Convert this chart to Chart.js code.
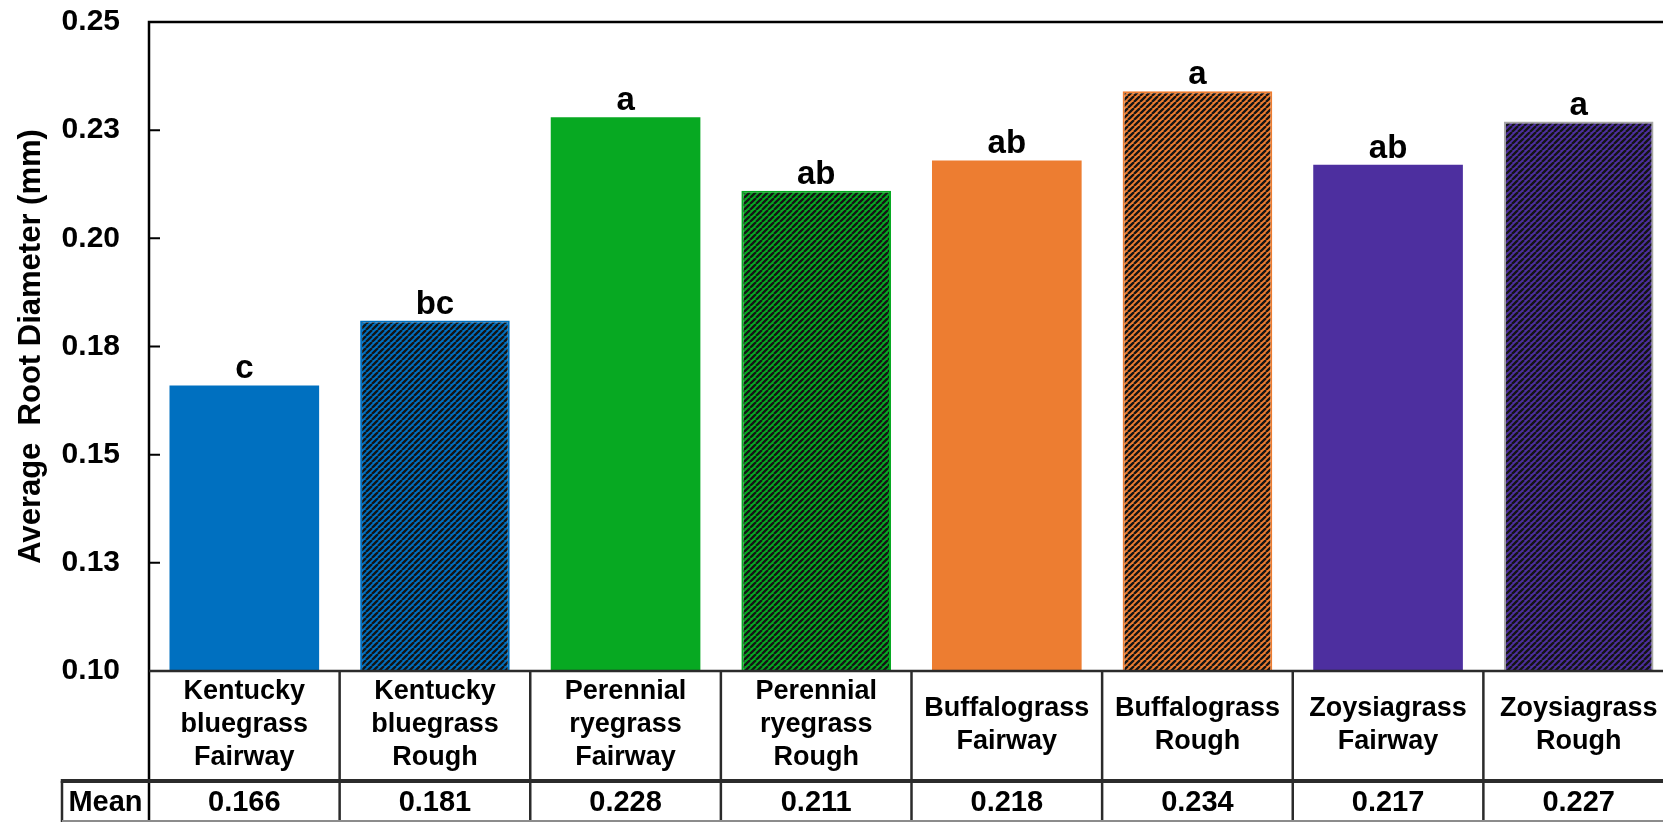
<!DOCTYPE html>
<html lang="en">
<head>
    <meta charset="UTF-8">
    <title>Average Root Diameter</title>
    <script src="https://cdn.jsdelivr.net/npm/chart.js"></script>
    <style>
        html, body {
            margin: 0;
            padding: 0;
            background: #fff;
            overflow: hidden;
        }

        #wrap {
            width: 1680px;
            height: 822px;
        }
    </style>
</head>
<body>
    <div id="wrap"><canvas id="rootChart" width="1680" height="822"></canvas></div>

    <script>
        // grass / management combos, one line of the header cell per entry
        const grasses = [
            ['Kentucky', 'bluegrass', 'Fairway'],
            ['Kentucky', 'bluegrass', 'Rough'],
            ['Perennial', 'ryegrass', 'Fairway'],
            ['Perennial', 'ryegrass', 'Rough'],
            ['Buffalograss', 'Fairway'],
            ['Buffalograss', 'Rough'],
            ['Zoysiagrass', 'Fairway'],
            ['Zoysiagrass', 'Rough']
        ];
        const meanDiameter = [0.166, 0.181, 0.228, 0.211, 0.218, 0.234, 0.217, 0.227];
        const sigLetters = ['c', 'bc', 'a', 'ab', 'ab', 'a', 'ab', 'a'];
        const yTickLabels = ['0.10', '0.13', '0.15', '0.18', '0.20', '0.23', '0.25'];

        const baseColors = ['#0070C0', '#0070C0', '#07A922', '#07A922', '#ED7D31', '#ED7D31', '#4D2F9F', '#4D2F9F'];
        const isRough = [false, true, false, true, false, true, false, true];
        const edgeColors = ['#0070C0', '#0070C0', '#07A922', '#07A922', '#ED7D31', '#ED7D31', '#4D2F9F', '#A6A6A6'];

        const FONT = '"Liberation Sans", Arial, sans-serif';
        const canvas = document.getElementById('rootChart');
        const mainCtx = canvas.getContext('2d');

        // diagonal stripes over the base colour for the rough plots
        const hatch = (color) => {
            const s = 6;
            const tile = document.createElement('canvas');
            tile.width = s;
            tile.height = s;
            const g = tile.getContext('2d');
            g.fillStyle = color;
            g.fillRect(0, 0, s, s);
            g.strokeStyle = '#141414';
            g.lineWidth = 2.3;
            g.beginPath();
            for (let k = -1; k <= 1; k++) {
                g.moveTo(k * s, s);
                g.lineTo(k * s + s, 0);
            }
            g.stroke();
            return mainCtx.createPattern(tile, 'repeat');
        };

        const fills = baseColors.map((c, i) => isRough[i] ? hatch(c) : c);

        const tablePlugin = {
            id: 'meanTable',
            afterDatasetsDraw(chart) {
                const { ctx } = chart;
                const meta = chart.getDatasetMeta(0);
                ctx.save();
                ctx.fillStyle = '#000';
                ctx.font = `bold 33px ${FONT}`;
                ctx.textAlign = 'center';
                ctx.textBaseline = 'alphabetic';
                meta.data.forEach((bar, i) => {
                    ctx.fillText(sigLetters[i], bar.x, bar.y - 7);
                });
                ctx.restore();
            },
            afterDraw(chart) {
                const { ctx, chartArea: a, scales: { x, y } } = chart;
                const W = chart.width;
                const H = chart.height;
                const colW = x.getPixelForValue(1) - x.getPixelForValue(0);
                const meanLeft = 62;
                const rowSplit = 781;

                ctx.save();
                ctx.lineCap = 'butt';

                // plot frame: left axis runs down through the table, top edge across
                ctx.strokeStyle = '#000';
                ctx.lineWidth = 2.5;
                ctx.beginPath();
                ctx.moveTo(a.left, a.top);
                ctx.lineTo(a.left, H);
                ctx.moveTo(a.left - 1.25, a.top);
                ctx.lineTo(W, a.top);
                ctx.stroke();

                // inward tick marks
                ctx.lineWidth = 2;
                ctx.beginPath();
                y.ticks.forEach(t => {
                    const py = y.getPixelForValue(t.value);
                    ctx.moveTo(a.left, py);
                    ctx.lineTo(a.left + 11, py);
                });
                ctx.stroke();

                // table grid
                ctx.strokeStyle = '#2b2b2b';
                ctx.lineWidth = 2.5;
                ctx.beginPath();
                ctx.moveTo(a.left, a.bottom);
                ctx.lineTo(W, a.bottom);
                for (let i = 1; i <= grasses.length; i++) {
                    const px = x.getPixelForValue(i) - colW / 2;
                    ctx.moveTo(px, a.bottom);
                    ctx.lineTo(px, H);
                }
                ctx.moveTo(meanLeft, rowSplit);
                ctx.lineTo(meanLeft, H);
                ctx.stroke();

                ctx.lineWidth = 4;
                ctx.beginPath();
                ctx.moveTo(meanLeft - 1.25, rowSplit);
                ctx.lineTo(W, rowSplit);
                ctx.stroke();

                ctx.strokeStyle = '#8c8c8c';
                ctx.lineWidth = 2;
                ctx.beginPath();
                ctx.moveTo(meanLeft, H - 1);
                ctx.lineTo(W, H - 1);
                ctx.stroke();

                // mean row
                ctx.fillStyle = '#000';
                ctx.font = `bold 29px ${FONT}`;
                ctx.textAlign = 'center';
                ctx.textBaseline = 'middle';
                const rowMid = (rowSplit + H) / 2 + 1;
                ctx.fillText('Mean', (meanLeft + a.left) / 2, rowMid);
                meanDiameter.forEach((v, i) => {
                    ctx.fillText(v.toFixed(3), x.getPixelForValue(i), rowMid);
                });
                ctx.restore();
            }
        };

        new Chart(canvas, {
            type: 'bar',
            data: {
                labels: grasses,
                datasets: [{
                    data: meanDiameter,
                    backgroundColor: fills,
                    borderColor: edgeColors,
                    borderWidth: isRough.map(r => r ? 2 : 0),
                    barPercentage: 0.785,
                    categoryPercentage: 1
                }]
            },
            options: {
                responsive: false,
                animation: false,
                layout: { padding: { top: 22, right: 6, left: 0, bottom: 0 } },
                plugins: {
                    legend: { display: false },
                    tooltip: { enabled: false }
                },
                scales: {
                    x: {
                        afterFit: (s) => { s.height = 151; },
                        grid: { display: false, drawTicks: false },
                        border: { display: false },
                        ticks: {
                            padding: 21,
                            crossAlign: 'center',
                            maxRotation: 0,
                            autoSkip: false,
                            color: '#000',
                            font: { family: FONT, size: 27, weight: 'bold', lineHeight: 1.22 }
                        }
                    },
                    y: {
                        min: 0.1,
                        max: 0.25,
                        afterFit: (s) => { s.width = 149; },
                        // tick marks are drawn inward by the plugin; the hidden tick length
                        // only pushes the labels off the axis
                        grid: { display: false, drawTicks: true, tickLength: 29 },
                        border: { display: false },
                        ticks: {
                            stepSize: 0.025,
                            padding: 0,
                            color: '#000',
                            font: { family: FONT, size: 30, weight: 'bold' },
                            callback: (v, i) => yTickLabels[i]
                        },
                        title: {
                            display: true,
                            text: 'Average  Root Diameter (mm)',
                            color: '#000',
                            padding: { top: 13, bottom: 0 },
                            font: { family: FONT, size: 31, weight: 'bold' }
                        }
                    }
                }
            },
            plugins: [tablePlugin]
        });
    </script>
</body>
</html>
